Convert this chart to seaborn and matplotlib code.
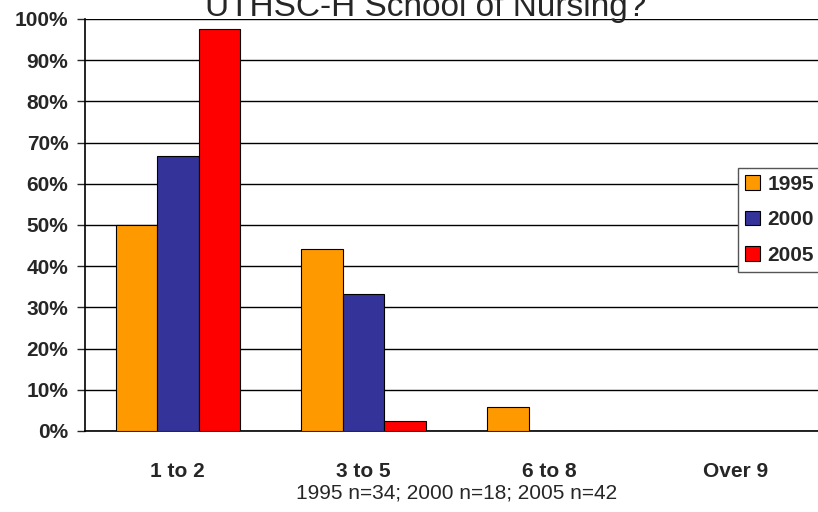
import matplotlib
matplotlib.use("Agg")
import matplotlib.pyplot as plt
from matplotlib.patches import Patch
import pandas as pd
import seaborn as sns

categories = ["1 to 2", "3 to 5", "6 to 8", "Over 9"]
years = ["1995", "2000", "2005"]
pct_1995 = [50.0, 44.1, 5.9, 0.0]
pct_2000 = [66.7, 33.3, 0.0, 0.0]
pct_2005 = [97.6, 2.4, 0.0, 0.0]
colors = ["#FF9900", "#333399", "#FF0000"]
yticks = list(range(0, 101, 10))

rows = []
for year, vals in zip(years, [pct_1995, pct_2000, pct_2005]):
    for cat, v in zip(categories, vals):
        rows.append({"range": cat, "year": year, "pct": v})
df = pd.DataFrame(rows)

sns.set_style("white")
plt.rcParams["font.family"] = ["Liberation Sans", "DejaVu Sans"]

fig = plt.figure(figsize=(8.18, 5.12), dpi=100)
ax = fig.add_axes([85 / 818, 1 - 431 / 512, 743 / 818, 412 / 512])

sns.barplot(data=df, x="range", y="pct", hue="year", palette=colors,
            width=0.67, saturation=1, edgecolor="black", linewidth=0.8,
            legend=False, ax=ax, zorder=3)

ax.set_ylim(0, 100)
ax.set_yticks(yticks)
ax.set_yticklabels([f"{t}%" for t in yticks], fontweight="bold", fontsize=15)
ax.grid(axis="y", color="black", linewidth=1, zorder=0)
ax.set_axisbelow(True)
ax.set_xlim(-0.5, 3.5)
ax.set_xticks([0, 1, 2, 3])
ax.set_xticklabels(categories, fontweight="bold", fontsize=15)
ax.set_xticks([-0.5, 0.5, 1.5, 2.5, 3.5], minor=True)
ax.tick_params(axis="x", which="major", length=0, pad=22)
ax.tick_params(axis="x", which="minor", length=6, width=1, color="gray", direction="out")
ax.tick_params(axis="y", length=6, width=1, direction="out", left=True, pad=6)
ax.set_xlabel("1995 n=34; 2000 n=18; 2005 n=42", fontsize=15, labelpad=2)
ax.set_ylabel("")

for side in ["top", "right"]:
    ax.spines[side].set_visible(False)
for side in ["left", "bottom"]:
    ax.spines[side].set_color("black")
    ax.spines[side].set_linewidth(1.2)

fig.text(0.52, 1 - 16 / 512, "UTHSC-H School of Nursing?", ha="center",
         va="baseline", fontsize=24)

handles = [Patch(facecolor=c, edgecolor="black", linewidth=0.8) for c in colors]
leg = fig.legend(handles, years, loc="upper left",
                 bbox_to_anchor=(738 / 818, 1 - 168 / 512),
                 prop={"weight": "bold", "size": 15},
                 handlelength=0.75, handleheight=0.7, handletextpad=0.35,
                 labelspacing=0.8, borderpad=0.32, borderaxespad=0,
                 fancybox=False, framealpha=1)
leg.get_frame().set_edgecolor("#555555")
leg.get_frame().set_linewidth(1)

fig.savefig("out.png", dpi=100)
